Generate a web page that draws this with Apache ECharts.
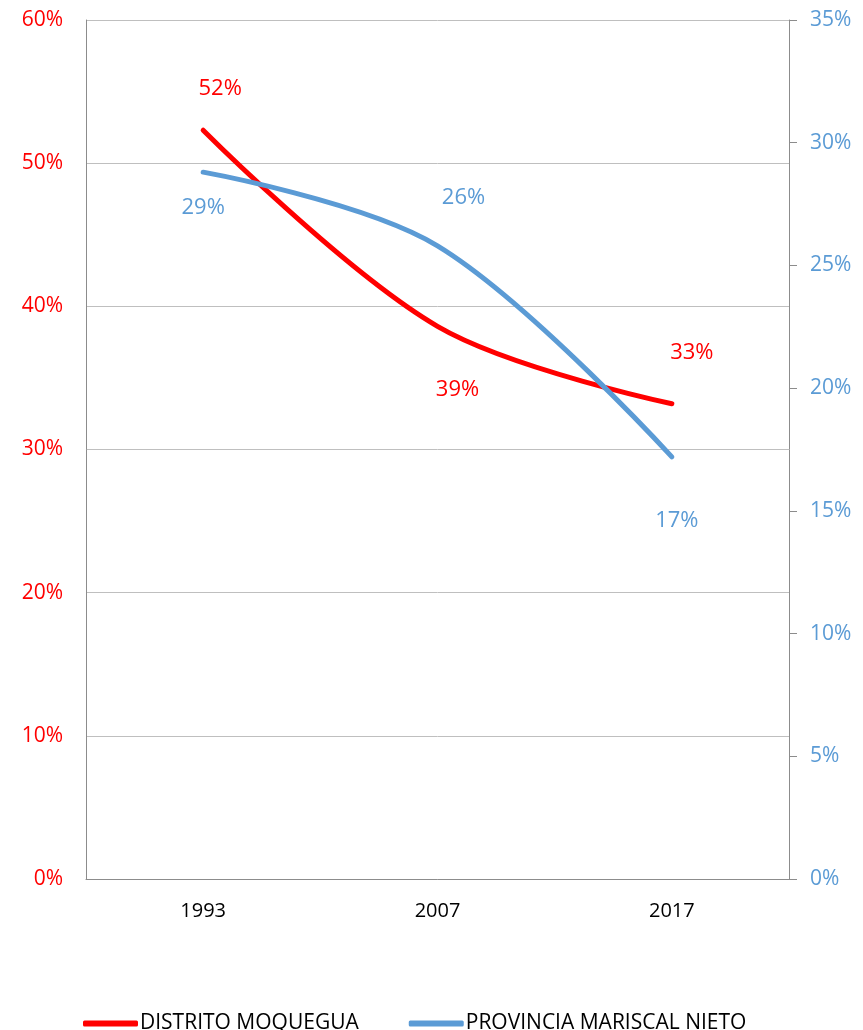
<!DOCTYPE html>
<html>
<head>
<meta charset="utf-8">
<script src="https://cdn.jsdelivr.net/npm/echarts@6/dist/echarts.min.js"></script>
<style>
  html, body { margin: 0; padding: 0; background: #fff; }
  #chart { width: 863px; height: 1030px; }
</style>
</head>
<body>
<div id="chart"></div>
<script>
var years = ['1993', '2007', '2017'];
var distrito = [52.3, 38.6, 33.2];
var provincia = [28.8, 25.8, 17.2];
var leftTicks = [0, 10, 20, 30, 40, 50, 60];
var rightTicks = [0, 5, 10, 15, 20, 25, 30, 35];

// label placement (dx, dy) relative to each point
var distritoLabelPos = [[17, -42], [20, 63], [20, -51]];
var provinciaLabelPos = [[0, 36], [26, -48], [5, 64]];

var font = 'Open Sans';

function pct(v) { return Math.round(v) + '%'; }

function withLabels(values, pos, color) {
    return values.map(function (v, i) {
        return {
            value: v,
            label: {
                show: true,
                position: 'inside',
                offset: pos[i],
                formatter: function (p) { return pct(p.value); },
                color: color,
                fontSize: 22,
                fontFamily: font
            }
        };
    });
}

var chart = echarts.init(document.getElementById('chart'));
option = {
    animation: false,
    grid: {
        left: 86,
        right: 74,
        top: 20,
        bottom: 151
    },
    legend: {
        top: 1008,
        left: 78,
        itemWidth: 55,
        itemHeight: 6,
        itemGap: 50,
        icon: 'roundRect',
        textStyle: { fontFamily: font, fontSize: 21, color: '#000', padding: [0, 0, 0, -3] },
        data: ['DISTRITO MOQUEGUA', 'PROVINCIA MARISCAL NIETO']
    },
    xAxis: [{
        type: 'category',
        boundaryGap: true,
        data: years,
        axisLine: { lineStyle: { color: '#8c8c8c' } },
        axisTick: { show: false },
        axisLabel: { color: '#000', fontFamily: font, fontSize: 20, margin: 22 }
    }],
    yAxis: [{
        type: 'value',
        min: leftTicks[0],
        max: leftTicks[leftTicks.length - 1],
        interval: 10,
        axisLine: { show: true, lineStyle: { color: '#8c8c8c' } },
        axisTick: { show: false },
        splitLine: { lineStyle: { color: '#bfbfbf' } },
        axisLabel: {
            color: '#ff0000', fontFamily: font, fontSize: 21, margin: 23,
            formatter: function (v) { return v + '%'; }
        }
    }, {
        type: 'value',
        position: 'right',
        min: rightTicks[0],
        max: rightTicks[rightTicks.length - 1],
        interval: 5,
        axisLine: { show: true, lineStyle: { color: '#8c8c8c' } },
        axisTick: { show: true, length: 8, lineStyle: { color: '#8c8c8c' } },
        splitLine: { show: false },
        axisLabel: {
            color: '#5b9bd5', fontFamily: font, fontSize: 21, margin: 21,
            formatter: function (v) { return v + '%'; }
        }
    }],
    series: [{
        name: 'DISTRITO MOQUEGUA',
        type: 'line',
        yAxisIndex: 0,
        smooth: 0.35,
        symbol: 'circle',
        symbolSize: 2,
        showSymbol: true,
        lineStyle: { color: '#ff0000', width: 5, cap: 'round' },
        itemStyle: { color: '#ff0000', borderWidth: 0 },
        data: withLabels(distrito, distritoLabelPos, '#ff0000')
    }, {
        name: 'PROVINCIA MARISCAL NIETO',
        type: 'line',
        yAxisIndex: 1,
        smooth: 0.35,
        symbol: 'circle',
        symbolSize: 2,
        showSymbol: true,
        lineStyle: { color: '#5b9bd5', width: 5, cap: 'round' },
        itemStyle: { color: '#5b9bd5', borderWidth: 0 },
        data: withLabels(provincia, provinciaLabelPos, '#5b9bd5')
    }]
};
chart.setOption(option);
</script>
</body>
</html>
